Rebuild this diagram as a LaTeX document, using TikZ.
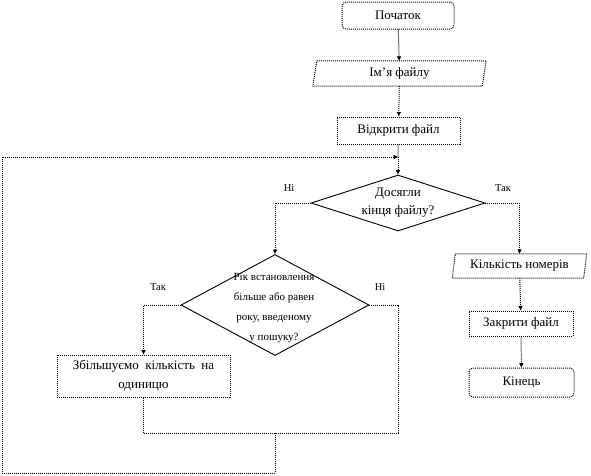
\documentclass[tikz,border=0pt]{standalone}
\usepackage{fontspec}
\setmainfont{Liberation Serif}
\usetikzlibrary{arrows.meta,shapes.geometric}
\begin{document}
\begin{tikzpicture}[x=1pt,y=-1pt,
  txt/.style={font=\fontsize{13}{19}\selectfont, align=center, inner sep=0pt},
  smalltxt/.style={font=\fontsize{11}{20}\selectfont, align=center, inner sep=0pt},
  lab/.style={font=\fontsize{10.5}{12}\selectfont, inner sep=0pt},
  conn/.style={densely dotted, line width=1pt},
  arr/.style={conn, -{Triangle[length=4.5pt,width=4pt]}},
  term/.style={txt, draw, densely dotted, line width=1pt, rounded corners=4pt},
  proc/.style={txt, draw, densely dotted, line width=1pt},
  iobox/.style={txt, draw=none},
  dec/.style={draw, diamond, line width=0.9pt, inner sep=0pt},
]
\useasboundingbox (0,0) rectangle (591,475);

% nodes
\node[term, minimum width=112pt, minimum height=27pt] (start) at (398,15.5) {Початок};
\node[iobox, minimum width=173pt, minimum height=25pt] (fname) at (399.5,73.5) {Ім’я файлу};
\draw[densely dotted, line width=1pt]
  ([xshift=4pt]fname.north west) -- (fname.north east) -- ([xshift=-4pt]fname.south east) -- (fname.south west) -- cycle;
\node[proc, minimum width=123pt, minimum height=27pt] (open) at (398.5,130.5) {Відкрити файл};
\coordinate (loopin) at (398,157);

\node[dec, minimum width=174pt, minimum height=56pt] (d1) at (398,203) {};
\node[txt, font=\fontsize{13}{18}\selectfont] at (d1) {Досягли\\кінця файлу?};
\node[lab] at (289,188) {Ні};
\node[lab] at (503,188) {Так};

\node[iobox, minimum width=134pt, minimum height=24pt] (count) at (519.5,266) {Кількість номерів};
\draw[densely dotted, line width=1pt]
  ([xshift=3pt]count.north west) -- (count.north east) -- ([xshift=-3pt]count.south east) -- (count.south west) -- cycle;
\node[proc, minimum width=104pt, minimum height=25pt] (close) at (521,323.5) {Закрити файл};
\node[term, minimum width=105pt, minimum height=29pt] (stop) at (521.5,382.5) {Кінець};

\node[dec, minimum width=188pt, minimum height=101pt] (d2) at (275,305) {};
\node[smalltxt] at (274,308) {Рік встановлення\\більше або равен\\року, введеному\\у пошуку?};
\node[lab] at (158,287) {Так};
\node[lab] at (380,287) {Ні};

\node[proc, minimum width=173pt, minimum height=42pt] (inc) at (143.5,376) {Збільшуємо\ \ кількість\ \ на\\одиницю};

\coordinate (merge) at (275,433);

% connectors
\draw[arr] (start) -- (fname);
\draw[arr] (fname) -- (open);
\draw[conn] (open) -- (loopin);
\draw[arr] (loopin) -- (d1.north);
\draw[arr] (d1.west) -| (d2.north);
\draw[arr] (d1.east) -| (count.north);
\draw[arr] (count) -- (close);
\draw[arr] (close) -- (stop);
\draw[arr] (d2.west) -| (inc.north);
\draw[conn] (d2.east) -| (398,433) -- (merge);
\draw[conn] (inc.south) |- (merge);
\draw[arr] (merge) -- (275,473) -| (2,157) -- (loopin);
\end{tikzpicture}
\end{document}
